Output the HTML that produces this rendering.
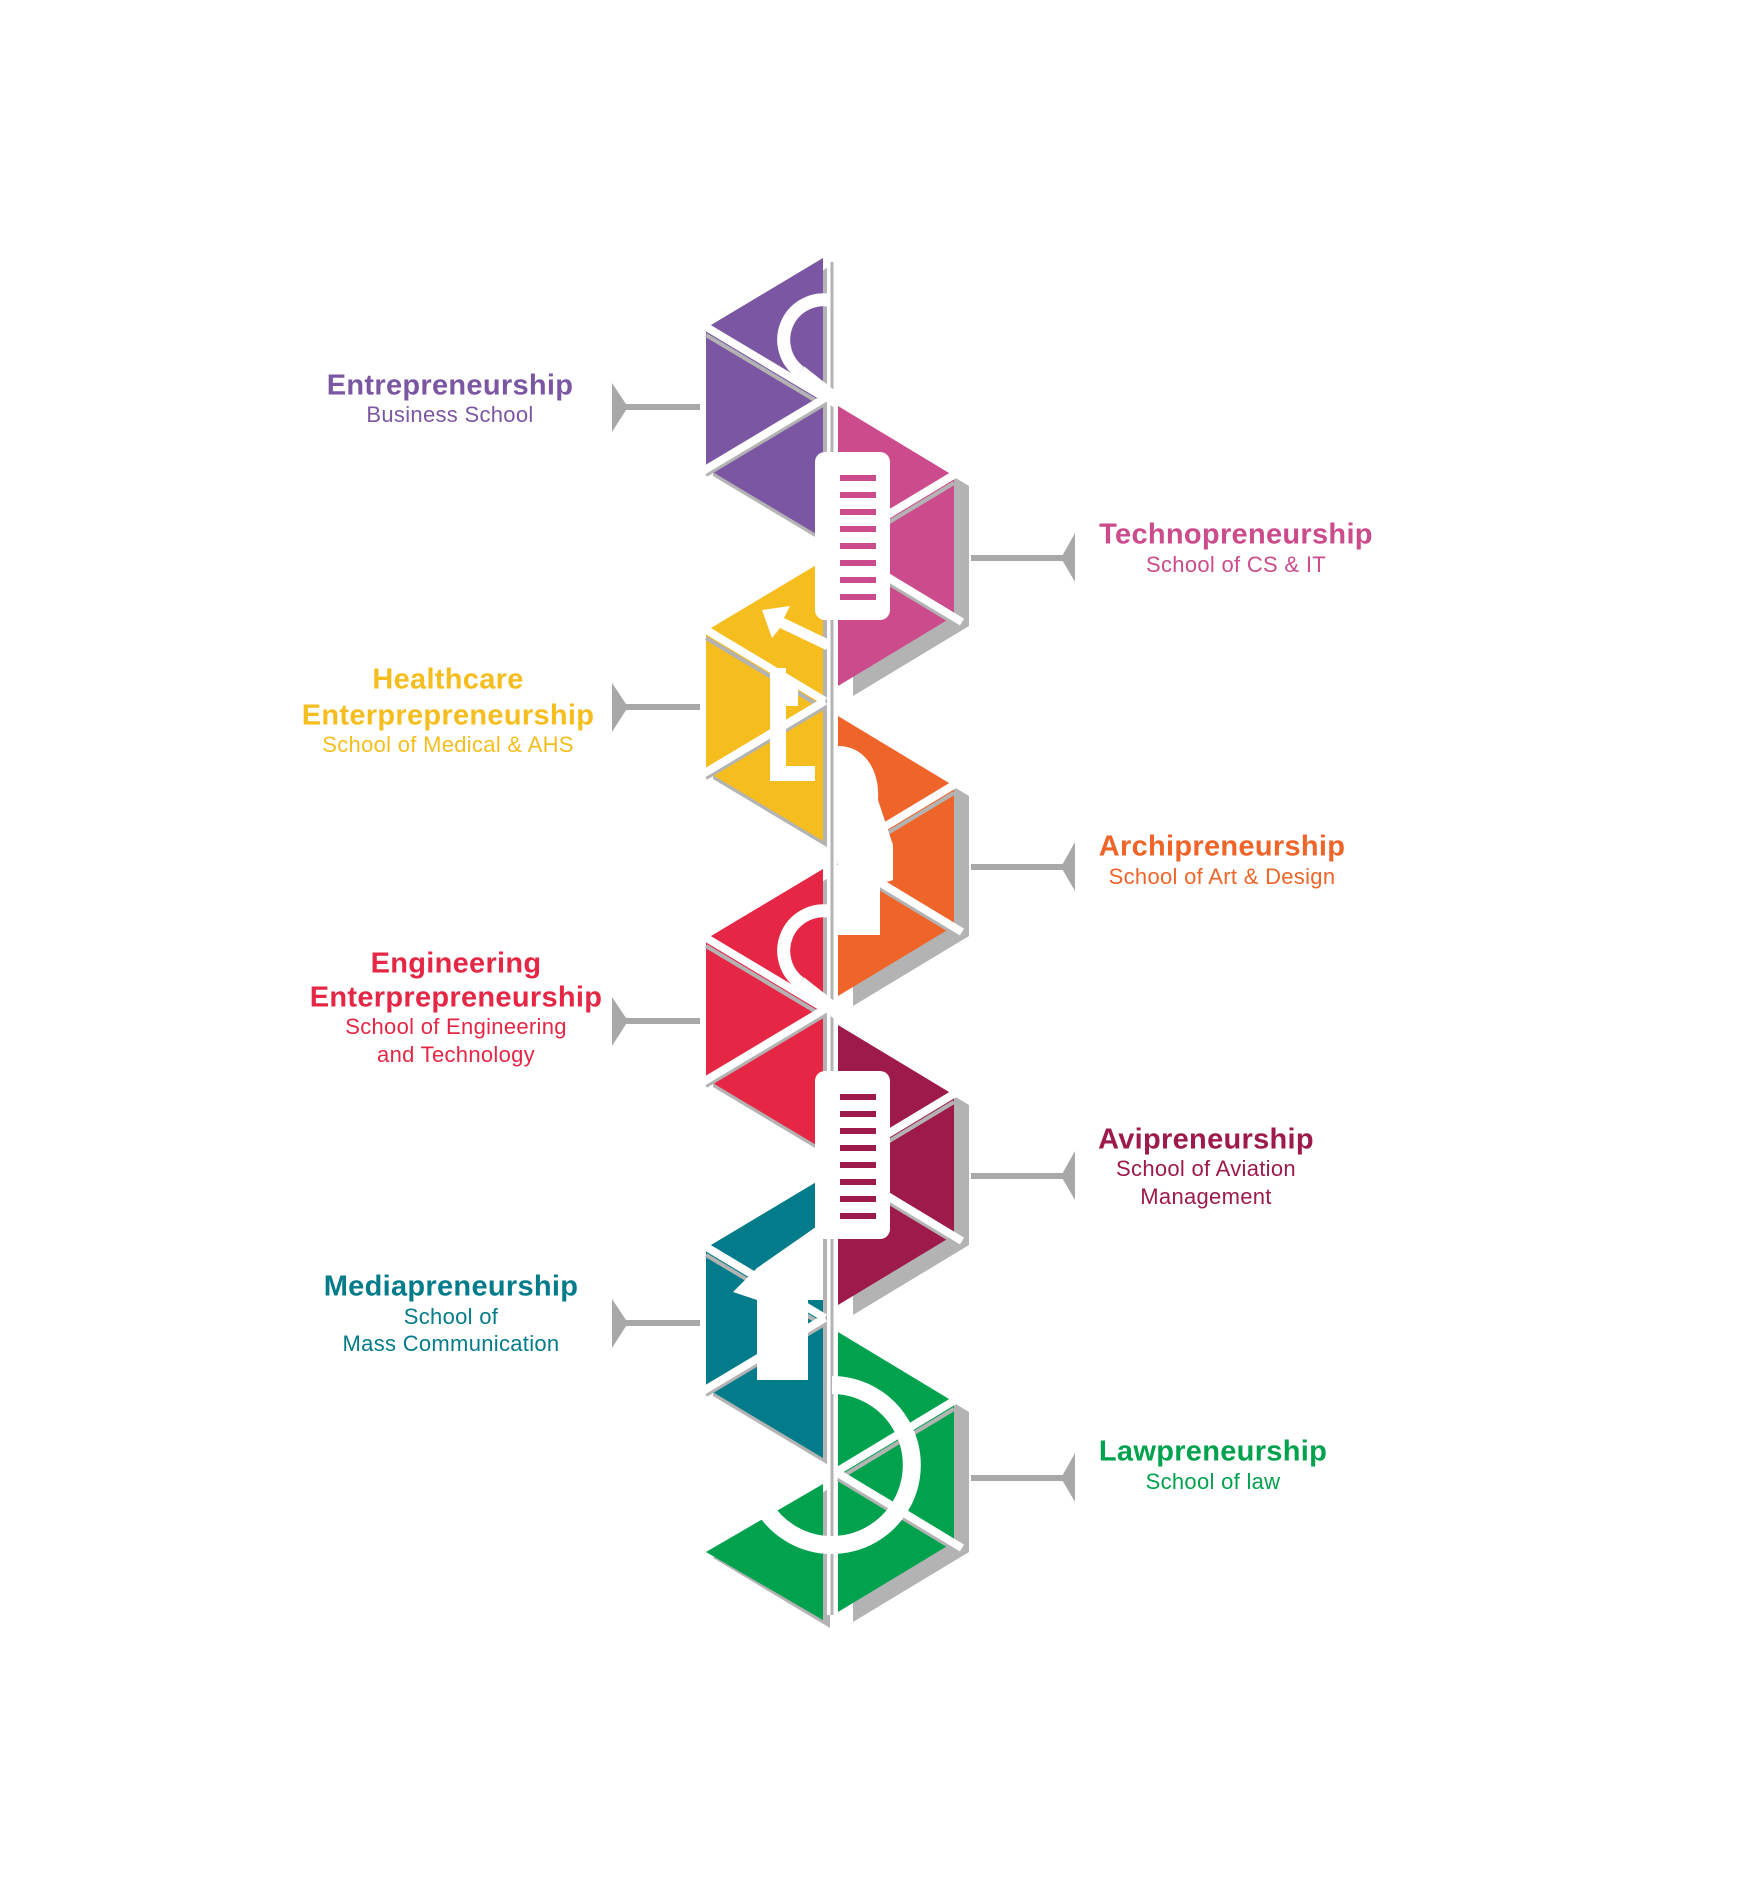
<!DOCTYPE html>
<html><head><meta charset="utf-8"><style>
html,body{margin:0;padding:0;background:#fff}
body{width:1740px;height:1903px;position:relative;overflow:hidden;font-family:"Liberation Sans",sans-serif}
.t{position:absolute;transform:translate(-50%,-50%);white-space:nowrap;text-align:center;line-height:1}
.b{font-weight:bold;font-size:29px;letter-spacing:0.3px}
.s{font-size:22px;letter-spacing:0.3px}
</style></head><body>
<svg width="1740" height="1903" style="position:absolute;left:0;top:0">
<defs>
<g id="L">
 <polygon points="0,-140 -117,-70 -117,70 0,140" transform="translate(7,8)" fill="#b3b3b3"/>
 <polygon points="0,-140 -117,-70 -117,70 0,140" fill="currentColor"/>
 <path d="M0,0 L-117,-70 M0,0 L-117,70" stroke="#b3b3b3" stroke-width="4" transform="translate(0,7)"/>
 <path d="M2,0 L-125,-76 M2,0 L-125,76" stroke="#fff" stroke-width="8"/>
</g>
<g id="R">
 <polygon points="0,-140 116,-70 116,70 0,140" transform="translate(15,10)" fill="#b3b3b3"/>
 <polygon points="0,-140 116,-70 116,70 0,140" fill="currentColor"/>
 <path d="M0,0 L116,-70 M0,0 L116,70" stroke="#b3b3b3" stroke-width="4" transform="translate(0,7)"/>
 <path d="M-2,0 L124,-76 M-2,0 L124,76" stroke="#fff" stroke-width="8"/>
</g>
</defs>
<use href="#L" x="823" y="398" style="color:#7b56a3"/>
<use href="#R" x="838" y="546" style="color:#cc4b8c"/>
<use href="#L" x="823" y="701" style="color:#f6bd1e"/>
<use href="#R" x="838" y="856" style="color:#ef6429"/>
<use href="#L" x="823" y="1009" style="color:#e52645"/>
<use href="#R" x="838" y="1165" style="color:#9d1a4a"/>
<use href="#L" x="823" y="1318" style="color:#027b8a"/>
<g transform="translate(823,1480)">
 <polygon points="0,0 -117,70 0,140" transform="translate(7,8)" fill="#b3b3b3"/>
 <polygon points="0,4 -117,72 0,140" fill="#00a24e"/>
</g>
<use href="#R" x="838" y="1472" style="color:#00a24e"/>
<!-- axis separators -->
<line x1="830" y1="258" x2="830" y2="1615" stroke="#fff" stroke-width="6"/>
<line x1="832" y1="262" x2="832" y2="1615" stroke="#b3b3b3" stroke-width="3"/>
<!-- icons -->
<path d="M828,300 A40,40 0 0 0 800,372" fill="none" stroke="#fff" stroke-width="13"/>
<path d="M800,372 L838,402" stroke="#fff" stroke-width="14"/>
<rect x="815" y="452" width="75" height="168" rx="10" fill="#fff"/>
<g stroke="#cc4b8c" stroke-width="6"><line x1="840" y1="478" x2="876" y2="478"/><line x1="840" y1="495" x2="876" y2="495"/><line x1="840" y1="512" x2="876" y2="512"/><line x1="840" y1="529" x2="876" y2="529"/><line x1="840" y1="546" x2="876" y2="546"/><line x1="840" y1="563" x2="876" y2="563"/><line x1="840" y1="580" x2="876" y2="580"/><line x1="840" y1="597" x2="876" y2="597"/></g>
<polygon points="762,610 790,606 784,618 830,640 826,650 780,628 772,638" fill="#fff"/>
<rect x="770" y="668" width="16" height="113" fill="#fff"/>
<rect x="770" y="766" width="45" height="15" fill="#fff"/>
<rect x="786" y="680" width="12" height="26" fill="#fff"/>
<path d="M838,746 C866,746 880,772 878,800 L893,845 L893,880 L880,884 L880,935 L838,935 Z" fill="#fff"/>
<path d="M828,911 A40,40 0 0 0 800,983" fill="none" stroke="#fff" stroke-width="13"/>
<path d="M800,983 L838,1013" stroke="#fff" stroke-width="14"/>
<rect x="815" y="1071" width="75" height="168" rx="10" fill="#fff"/>
<g stroke="#9d1a4a" stroke-width="6"><line x1="840" y1="1097" x2="876" y2="1097"/><line x1="840" y1="1114" x2="876" y2="1114"/><line x1="840" y1="1131" x2="876" y2="1131"/><line x1="840" y1="1148" x2="876" y2="1148"/><line x1="840" y1="1165" x2="876" y2="1165"/><line x1="840" y1="1182" x2="876" y2="1182"/><line x1="840" y1="1199" x2="876" y2="1199"/><line x1="840" y1="1216" x2="876" y2="1216"/></g>
<polygon points="733,1292 757,1268 823,1222 823,1300 808,1300 808,1380 757,1380 757,1300" fill="#fff"/>
<path d="M832,1385 A80,80 0 1 1 765,1509" fill="none" stroke="#fff" stroke-width="18"/>
<!-- connectors -->
<g fill="#a8a8a8" stroke="#a8a8a8">
<line x1="625" y1="407" x2="700" y2="407" stroke-width="6"/><polygon points="612,383 628,407 612,432" stroke="none"/>
<line x1="625" y1="707" x2="700" y2="707" stroke-width="6"/><polygon points="612,683 628,707 612,732" stroke="none"/>
<line x1="625" y1="1021" x2="700" y2="1021" stroke-width="6"/><polygon points="612,997 628,1021 612,1046" stroke="none"/>
<line x1="625" y1="1323" x2="700" y2="1323" stroke-width="6"/><polygon points="612,1299 628,1323 612,1348" stroke="none"/>
<line x1="971" y1="558" x2="1065" y2="558" stroke-width="6"/><polygon points="1075,533 1061,558 1075,582" stroke="none"/>
<line x1="971" y1="867" x2="1065" y2="867" stroke-width="6"/><polygon points="1075,842 1061,867 1075,891" stroke="none"/>
<line x1="971" y1="1176" x2="1065" y2="1176" stroke-width="6"/><polygon points="1075,1151 1061,1176 1075,1200" stroke="none"/>
<line x1="971" y1="1478" x2="1065" y2="1478" stroke-width="6"/><polygon points="1075,1453 1061,1478 1075,1502" stroke="none"/>
</g>
</svg>
<div class="t b" style="left:450px;top:386px;color:#7b56a3">Entrepreneurship</div>
<div class="t s" style="left:450px;top:415px;color:#7b56a3">Business School</div>
<div class="t b" style="left:1236px;top:535px;color:#cc4b8c">Technopreneurship</div>
<div class="t s" style="left:1236px;top:565px;color:#cc4b8c">School of CS &amp; IT</div>
<div class="t b" style="left:448px;top:680px;color:#f6bd1e">Healthcare</div>
<div class="t b" style="left:448px;top:716px;color:#f6bd1e">Enterprepreneurship</div>
<div class="t s" style="left:448px;top:745px;color:#f6bd1e">School of Medical &amp; AHS</div>
<div class="t b" style="left:1222px;top:847px;color:#ef6429">Archipreneurship</div>
<div class="t s" style="left:1222px;top:877px;color:#ef6429">School of Art &amp; Design</div>
<div class="t b" style="left:456px;top:964px;color:#e52645">Engineering</div>
<div class="t b" style="left:456px;top:998px;color:#e52645">Enterprepreneurship</div>
<div class="t s" style="left:456px;top:1027px;color:#e52645">School of Engineering</div>
<div class="t s" style="left:456px;top:1055px;color:#e52645">and Technology</div>
<div class="t b" style="left:1206px;top:1140px;color:#9d1a4a">Avipreneurship</div>
<div class="t s" style="left:1206px;top:1169px;color:#9d1a4a">School of Aviation</div>
<div class="t s" style="left:1206px;top:1197px;color:#9d1a4a">Management</div>
<div class="t b" style="left:451px;top:1287px;color:#027b8a">Mediapreneurship</div>
<div class="t s" style="left:451px;top:1317px;color:#027b8a">School of</div>
<div class="t s" style="left:451px;top:1344px;color:#027b8a">Mass Communication</div>
<div class="t b" style="left:1213px;top:1452px;color:#00a24e">Lawpreneurship</div>
<div class="t s" style="left:1213px;top:1482px;color:#00a24e">School of law</div>
</body></html>
